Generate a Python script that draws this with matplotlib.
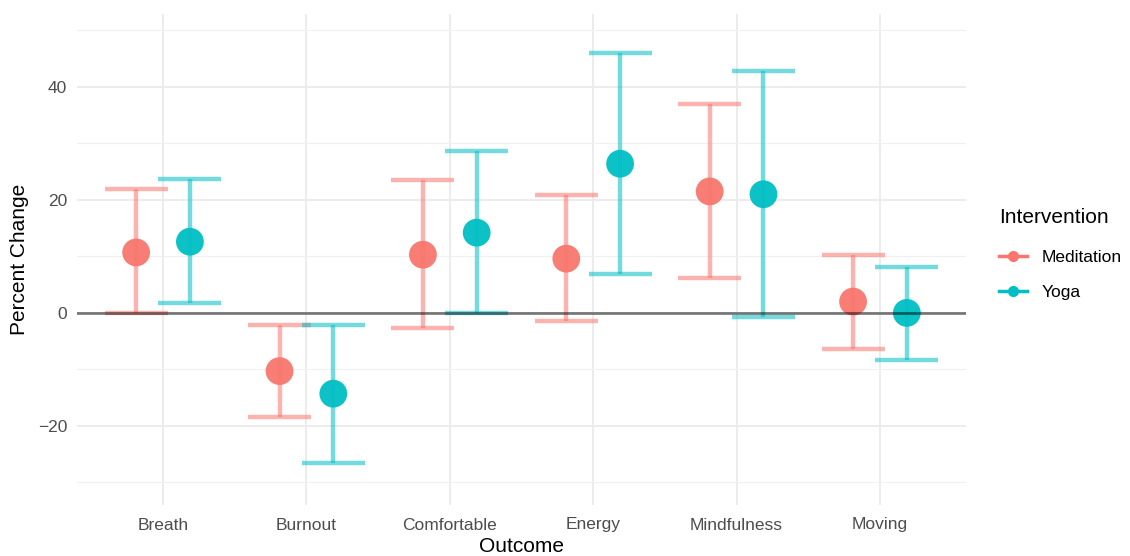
import matplotlib
matplotlib.use("Agg")
import matplotlib.pyplot as plt
from matplotlib.lines import Line2D
import numpy as np

plt.rcParams['font.family'] = ['Liberation Sans', 'DejaVu Sans']

outcomes = ["Breath", "Burnout", "Comfortable", "Energy", "Mindfulness", "Moving"]
groups = ["Meditation", "Yoga"]
colors = {"Meditation": "#F8766D", "Yoga": "#00BFC4"}

med_est = [10.7, -10.3, 10.3, 9.6, 21.5, 2.0]
med_low = [0.0, -18.5, -2.7, -1.5, 6.1, -6.4]
med_high = [21.9, -2.1, 23.5, 20.8, 36.9, 10.3]

yoga_est = [12.6, -14.3, 14.2, 26.4, 21.0, 0.0]
yoga_low = [1.7, -26.6, -0.1, 6.9, -0.8, -8.3]
yoga_high = [23.7, -2.1, 28.7, 46.0, 42.9, 8.1]

data = {
    "Meditation": (med_est, med_low, med_high),
    "Yoga": (yoga_est, yoga_low, yoga_high),
}

dodge = 0.375
cap_half = 0.22

fig = plt.figure(figsize=(11.3, 5.56), dpi=100)
ax = fig.add_axes([77/1130, 1-505/556, (966-77)/1130, (505-14)/556])

x = np.arange(len(outcomes)) + 1
offsets = {"Meditation": -dodge/2, "Yoga": dodge/2}

for g in groups:
    est, lo, hi = data[g]
    xs = x + offsets[g]
    c = colors[g]
    ax.vlines(xs, lo, hi, color=c, alpha=0.55, lw=3.2, zorder=3)
    ax.hlines(lo, xs - cap_half, xs + cap_half, color=c, alpha=0.55, lw=3.2, zorder=3)
    ax.hlines(hi, xs - cap_half, xs + cap_half, color=c, alpha=0.55, lw=3.2, zorder=3)
    ax.scatter(xs, est, s=400, color=c, alpha=0.95, edgecolors='none', zorder=4)

ax.axhline(0, color='black', alpha=0.5, lw=2.0, zorder=5)

ax.set_xlim(0.4, 6.6)
ax.set_ylim(-34, 52.9)
ax.set_xticks(x)
ax.set_xticklabels(outcomes)
ax.set_yticks([-20, 0, 20, 40])
ax.set_yticks([-30, -10, 10, 30, 50], minor=True)
ax.grid(True, which='major', color='#EBEBEB', lw=1.3, zorder=0)
ax.grid(True, which='minor', axis='y', color='#F0F0F0', lw=0.8, zorder=0)
ax.set_axisbelow(True)
for s in ax.spines.values():
    s.set_visible(False)
ax.tick_params(axis='both', which='both', length=0, labelsize=12.5, labelcolor='#4D4D4D')
ax.tick_params(axis='x', pad=9)
ax.tick_params(axis='y', pad=7)

ax.set_xlabel("Outcome", fontsize=15, color='black')
ax.xaxis.set_label_coords(0.5, -(546-505)/491)
ax.xaxis.label.set_va('center')
ax.set_ylabel("Percent Change", fontsize=15, color='black')
ax.yaxis.set_label_coords((20-77)/889, 0.5)
ax.yaxis.label.set_va('center')

handles = [Line2D([0], [0], color=colors[g], lw=2.5, marker='o', markersize=7) for g in groups]
leg = fig.legend(handles, groups, title="Intervention", loc='center left',
                 bbox_to_anchor=(996/1130, 1-254/556), frameon=False,
                 fontsize=12.5, title_fontsize=15, handlelength=1.6,
                 handletextpad=0.8, labelspacing=1.13, alignment='left',
                 borderaxespad=0, borderpad=0.2)
leg._legend_box.sep = 1.5 * 12.5 - 2.5

fig.savefig("out.png", dpi=100, facecolor='white')
